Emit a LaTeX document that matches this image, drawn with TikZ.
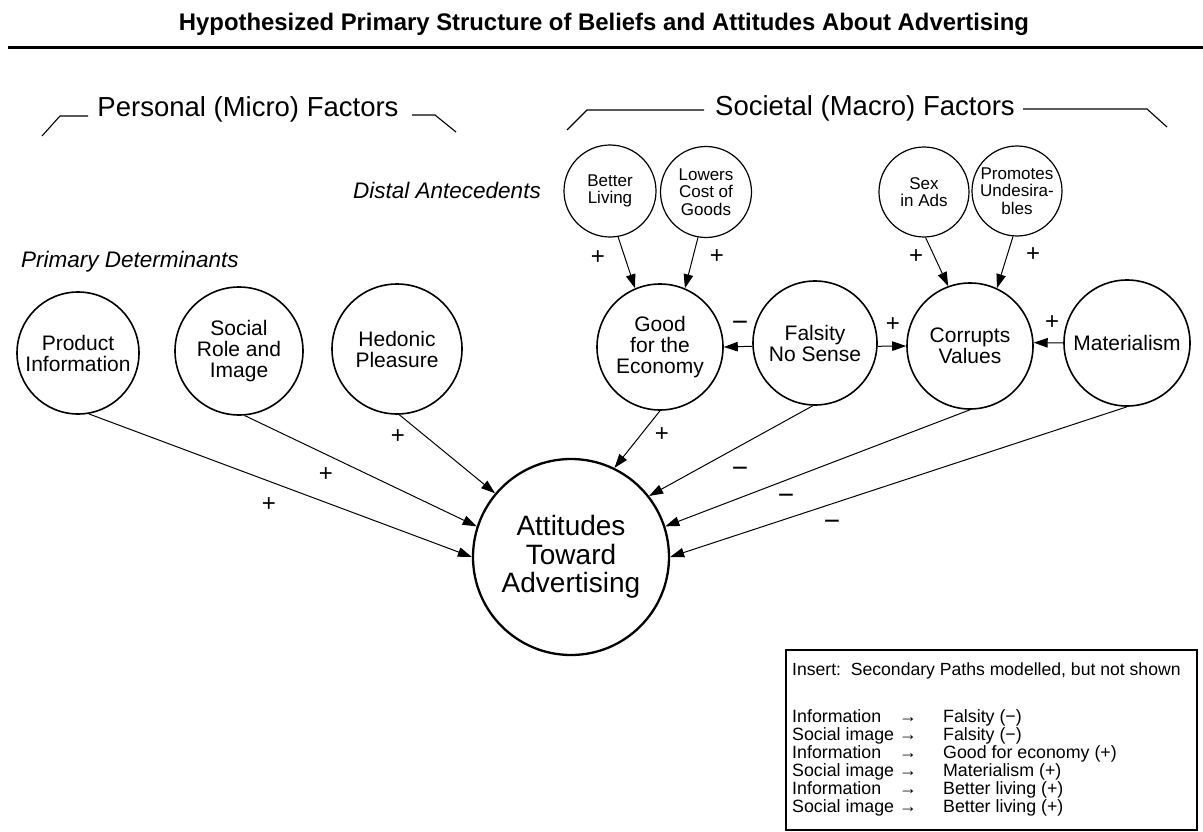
\documentclass[tikz,border=0pt]{standalone}
\usepackage{fontspec}
\setmainfont{Liberation Sans}
\usepackage{graphicx}
\usetikzlibrary{arrows.meta}
\begin{document}
\begin{tikzpicture}[x=1pt,y=-1pt,
  big/.style={circle,draw,line width=1.6pt,minimum size=126pt,inner sep=0pt,align=center,font=\fontsize{21}{21}\selectfont},
  small/.style={circle,draw,line width=1.2pt,minimum size=91pt,inner sep=0pt,align=center,font=\fontsize{17}{17.5}\selectfont},
  ar/.style={-{Triangle[length=14pt,width=9.5pt]},line width=1pt},
  sign/.style={font=\fontsize{24}{24}\selectfont,inner sep=0pt},
  msign/.style={font=\fontsize{28}{28}\selectfont,inner sep=0pt},
  head/.style={font=\fontsize{27.5}{28}\selectfont,inner sep=0pt},
  sub/.style={font=\fontsize{22.5}{23}\itshape,inner sep=0pt},
  brk/.style={line width=1.1pt}]
\useasboundingbox (0,0) rectangle (1203,832);
\fill[white] (0,0) rectangle (1203,832);
% title
\node[inner sep=0pt,anchor=base] (title) at (604,31) {\resizebox{850pt}{\height}{\fontsize{24}{24}\selectfont\bfseries Hypothesized Primary Structure of Beliefs and Attitudes About Advertising}};
\draw[line width=3pt] (8,48) -- (1203,48);
% group headings
\node[head] (pers) at (248,109) {Personal (Micro) Factors};
\node[head] (soc) at (865,108) {Societal (Macro) Factors};
\coordinate (p1) at (42,136); \coordinate (p2) at (60,116); \coordinate (p3) at (88,116);
\coordinate (p4) at (412,115); \coordinate (p5) at (435,115); \coordinate (p6) at (456,132);
\coordinate (s1) at (567,130); \coordinate (s2) at (587,110); \coordinate (s3) at (704,110);
\coordinate (s4) at (1023,109); \coordinate (s5) at (1147,109); \coordinate (s6) at (1167,127);
\draw[brk] (p1) -- (p2) -- (p3);
\draw[brk] (p4) -- (p5) -- (p6);
\draw[brk] (s1) -- (s2) -- (s3);
\draw[brk] (s4) -- (s5) -- (s6);
\node[sub] (distal) at (447,190) {Distal Antecedents};
\node[sub] (primary) at (130,262) {Primary Determinants};
% circles
\node[big,minimum size=122pt] (PI) at (78,353) {Product\\Information};
\node[big,minimum size=128pt] (SR) at (239,351) {Social\\Role and\\Image};
\node[big,minimum size=130pt] (HP) at (397,349) {Hedonic\\Pleasure};
\node[big] (GE) at (660,347) {Good\\for the\\Economy};
\node[big,minimum size=124pt] (FN) at (815,343) {Falsity\\No Sense};
\node[big] (CV) at (970,346) {Corrupts\\Values};
\node[big] (MA) at (1127,343) {Materialism};
\node[small,minimum size=92pt] (BL) at (610,191) {Better\\Living};
\node[small] (LC) at (706,192) {Lowers\\Cost of\\Goods};
\node[small,minimum size=90pt] (SA) at (924,192) {Sex\\in Ads};
\node[small,minimum size=90pt] (PU) at (1017,191) {Promotes\\Undesira-\\bles};
\node[circle,draw,line width=2.3pt,minimum size=196pt,inner sep=0pt,align=center,font=\fontsize{28}{28.5}\selectfont] (AT) at (571,557) {Attitudes\\Toward\\Advertising};
% distal arrows
\draw[ar] (BL.-80) -- (GE.113);
\draw[ar] (LC.-100) -- (GE.67);
\draw[ar] (SA.-88) -- (CV.110);
\draw[ar] (PU.-95) -- (CV.65);
\node[sign] (s01) at (598,258) {+};
\node[sign] (s02) at (717,257) {+};
\node[sign] (s03) at (916,257) {+};
\node[sign] (s04) at (1033,255) {+};
% horizontal arrows
\draw[ar] (FN.183) -- (GE.0);
\draw[ar] (FN.-3) -- (CV.180);
\draw[ar] (MA.180) -- (CV.3);
\node[msign] (s05) at (740,326) {−};
\node[sign] (s06) at (893,325) {+};
\node[sign] (s07) at (1052,323) {+};
% to attitudes
\draw[ar] (PI.-80) -- (AT.180);
\draw[ar] (SR.-85) -- (AT.162);
\draw[ar] (HP.-88) -- (AT.140);
\draw[ar] (GE.-90) -- (AT.64);
\draw[ar] (FN.-92) -- (AT.38);
\draw[ar] (CV.-90) -- (AT.18);
\draw[ar] (MA.-90) -- (AT.0);
\node[sign] (s08) at (269,505) {+};
\node[sign] (s09) at (326,475) {+};
\node[sign] (s10) at (398,437) {+};
\node[sign] (s11) at (662,435) {+};
\node[msign] (s12) at (740,472) {−};
\node[msign] (s13) at (786,499) {−};
\node[msign] (s14) at (832,525) {−};
% insert
\draw[line width=1.1pt] (786,650) rectangle (1197,830);
\node[anchor=north west,inner sep=0pt,font=\fontsize{17.6}{17}\selectfont] (ins) at (792,663) {Insert:\ \ Secondary Paths modelled, but not shown};
\node[anchor=north west,inner sep=0pt,font=\fontsize{17.8}{17.2}\selectfont] (rows) at (792,709) {\begin{tabular}{@{}p{107pt}@{}p{44pt}@{}l@{}}
Information & → & Falsity (−)\\
Social image & → & Falsity (−)\\
Information & → & Good for economy (+)\\
Social image & → & Materialism (+)\\
Information & → & Better living (+)\\
Social image & → & Better living (+)
\end{tabular}};
\end{tikzpicture}
\end{document}
